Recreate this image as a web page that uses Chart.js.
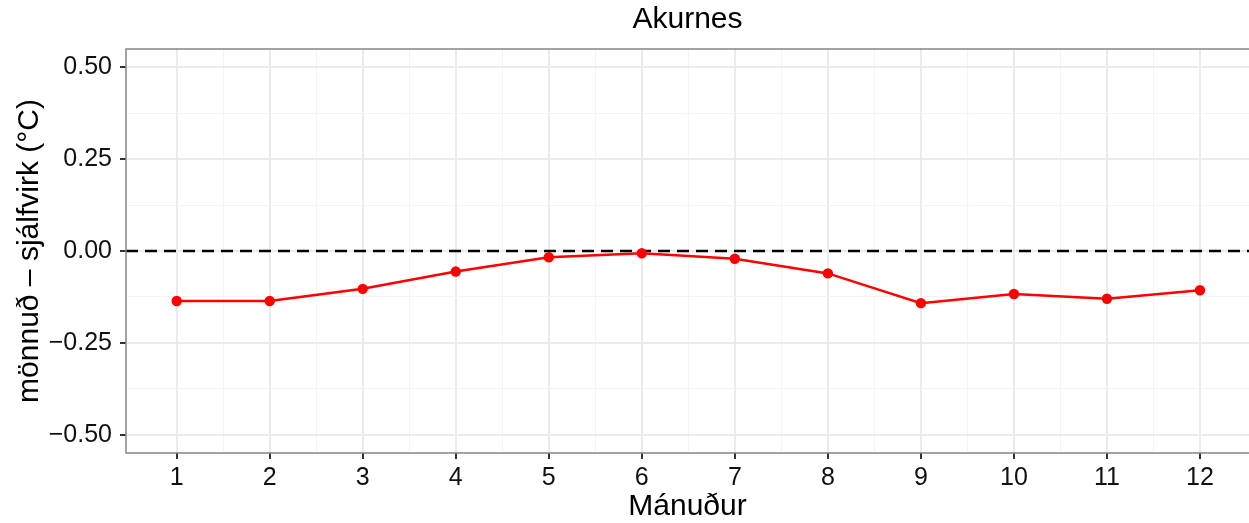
<!DOCTYPE html>
<html>
<head>
<meta charset="utf-8">
<script src="https://cdn.jsdelivr.net/npm/chart.js@4.4.1/dist/chart.umd.min.js"></script>
<style>
  html, body { margin: 0; padding: 0; background: #ffffff; }
  canvas { display: block; }
</style>
</head>
<body>
<canvas id="chart" width="1249" height="523"></canvas>
<script>
// Monthly mean difference, manned minus automatic station
const months = [1, 2, 3, 4, 5, 6, 7, 8, 9, 10, 11, 12];
const diffValues = [-0.136, -0.136, -0.103, -0.056, -0.017, -0.006, -0.021, -0.061, -0.142, -0.117, -0.130, -0.107];

// Axis breaks
const yTickValues = [-0.5, -0.25, 0, 0.25, 0.5];
const yTickLabels = ['\u22120.50', '\u22120.25', '0.00', '0.25', '0.50'];
const yMinorValues = [-0.375, -0.125, 0.125, 0.375];
const xMinorValues = [1.5, 2.5, 3.5, 4.5, 5.5, 6.5, 7.5, 8.5, 9.5, 10.5, 11.5];

const chartTitle = 'Akurnes';
const xTitle = 'Mánuður';
const yTitle = 'mönnuð – sjálfvirk (°C)';

const FONT = '"Liberation Sans", Arial, Helvetica, sans-serif';

function isMajorTick(ctx, majors) {
  return ctx.tick && majors.includes(ctx.tick.value);
}

// Keep the scales from reserving extra room for edge labels
function fixPadding(scale) {
  scale.paddingLeft = 0;
  scale.paddingTop = 0;
  scale.paddingBottom = 0;
  scale.paddingRight = 0;
}

// Dashed reference line at zero, across the full panel
const zeroLine = {
  id: 'zeroLine',
  beforeDatasetsDraw(chart) {
    const { ctx, chartArea } = chart;
    const y = chart.scales.y.getPixelForValue(0);
    ctx.save();
    ctx.strokeStyle = '#000000';
    ctx.lineWidth = 2.5;
    ctx.setLineDash([12, 7]);
    ctx.beginPath();
    ctx.moveTo(chartArea.left, y);
    ctx.lineTo(chartArea.right, y);
    ctx.stroke();
    ctx.restore();
  }
};

// Panel frame; its right side sits just past the canvas edge
const panelBorder = {
  id: 'panelBorder',
  afterDraw(chart) {
    const { ctx, chartArea } = chart;
    ctx.save();
    ctx.strokeStyle = '#858585';
    ctx.lineWidth = 1.5;
    ctx.strokeRect(chartArea.left, chartArea.top,
      chartArea.right - chartArea.left + 2, chartArea.bottom - chartArea.top);
    ctx.restore();
  }
};

new Chart(document.getElementById('chart'), {
  type: 'line',
  data: {
    datasets: [{
      data: months.map((m, i) => ({ x: m, y: diffValues[i] })),
      borderColor: '#ff0000',
      backgroundColor: '#ff0000',
      borderWidth: 2.5,
      pointRadius: 5.2,
      pointBorderWidth: 0,
      pointBackgroundColor: '#ff0000',
      tension: 0,
      xAxisID: 'x',
      yAxisID: 'y'
    }]
  },
  options: {
    responsive: false,
    devicePixelRatio: 1,
    animation: false,
    layout: {
      autoPadding: false,
      padding: { top: 0, right: 0, bottom: 0, left: 0 }
    },
    plugins: {
      legend: { display: false },
      tooltip: { enabled: false },
      title: { display: false }
    },
    scales: {
      top: {
        type: 'linear',
        position: 'top',
        display: true,
        ticks: { display: false },
        grid: { display: false },
        border: { display: false },
        title: {
          display: true,
          text: chartTitle,
          color: '#000000',
          font: { family: FONT, size: 30, lineHeight: 1 },
          padding: { top: 5, bottom: 0 }
        },
        afterFit(scale) { scale.height = 49; fixPadding(scale); }
      },
      x: {
        type: 'linear',
        position: 'bottom',
        min: 0.455,
        max: 12.527,
        afterBuildTicks(scale) {
          scale.ticks = months.concat(xMinorValues)
            .sort((a, b) => a - b)
            .map(v => ({ value: v }));
        },
        ticks: {
          autoSkip: false,
          maxRotation: 0,
          padding: 4,
          color: '#111111',
          font: { family: FONT, size: 25, lineHeight: 1.2 },
          callback: (value) => months.includes(value) ? String(value) : ''
        },
        grid: {
          drawOnChartArea: true,
          color: ctx => isMajorTick(ctx, months) ? '#ebebeb' : '#f4f4f4',
          lineWidth: ctx => isMajorTick(ctx, months) ? 2 : 1,
          tickColor: ctx => isMajorTick(ctx, months) ? '#333333' : 'rgba(0,0,0,0)',
          tickLength: 6,
          tickWidth: 2
        },
        border: { display: false },
        title: {
          display: true,
          text: xTitle,
          color: '#000000',
          font: { family: FONT, size: 30, lineHeight: 1 },
          padding: { top: 0, bottom: 1 }
        },
        afterFit(scale) { scale.height = 70; fixPadding(scale); }
      },
      y: {
        type: 'linear',
        position: 'left',
        min: -0.55,
        max: 0.55,
        afterBuildTicks(scale) {
          scale.ticks = yTickValues.concat(yMinorValues)
            .sort((a, b) => a - b)
            .map(v => ({ value: v }));
        },
        ticks: {
          autoSkip: false,
          padding: 8,
          color: '#111111',
          font: { family: FONT, size: 25, lineHeight: 1.2 },
          callback: (value) => {
            const i = yTickValues.indexOf(value);
            return i >= 0 ? yTickLabels[i] : '';
          }
        },
        grid: {
          drawOnChartArea: true,
          color: ctx => isMajorTick(ctx, yTickValues) ? '#ebebeb' : '#f4f4f4',
          lineWidth: ctx => isMajorTick(ctx, yTickValues) ? 2 : 1,
          tickColor: ctx => isMajorTick(ctx, yTickValues) ? '#333333' : 'rgba(0,0,0,0)',
          tickLength: 6,
          tickWidth: 2
        },
        border: { display: false },
        title: {
          display: true,
          text: yTitle,
          color: '#000000',
          font: { family: FONT, size: 30, lineHeight: 1 },
          padding: { top: 15, bottom: 0 }
        },
        afterFit(scale) { scale.width = 126; fixPadding(scale); }
      }
    }
  },
  plugins: [zeroLine, panelBorder]
});
</script>
</body>
</html>
